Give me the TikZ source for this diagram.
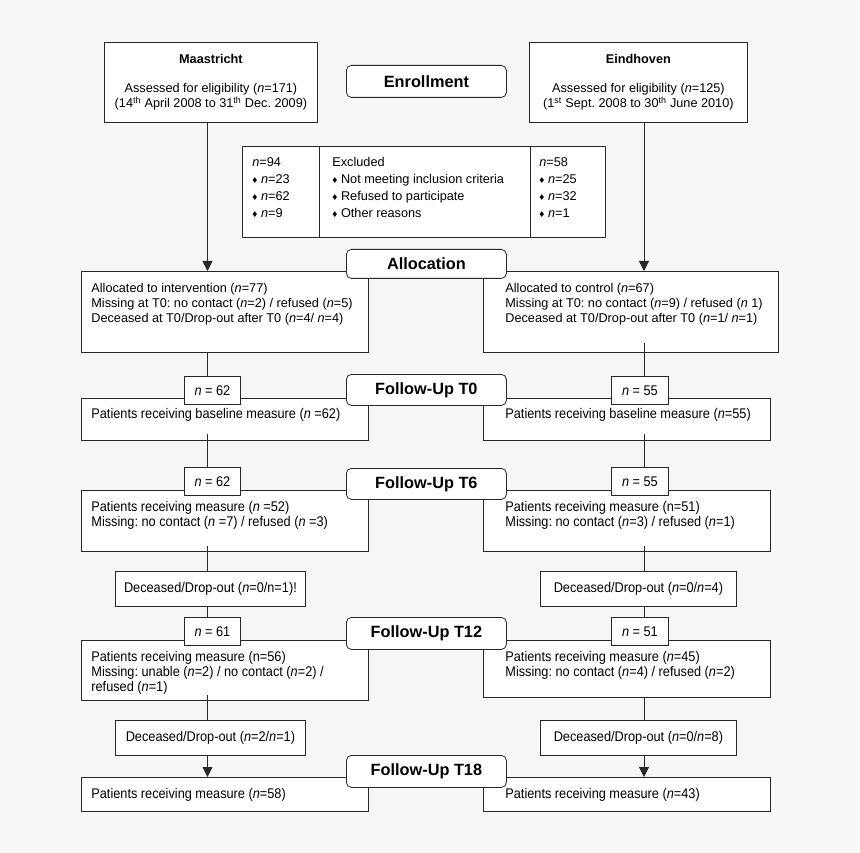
\documentclass[tikz,border=0pt]{standalone}
\usepackage{fontspec}
\setmainfont{Liberation Sans}
\newfontfamily\narrowf[FakeStretch=0.91]{Liberation Sans}
\usetikzlibrary{calc,arrows.meta}
\definecolor{bg}{RGB}{247,247,247}
\definecolor{ln}{RGB}{40,40,40}
\frenchspacing
\newcommand{\normf}{\fontsize{12.7}{15}\selectfont}
\newcommand{\narf}{\narrowf\fontsize{14}{15}\selectfont}
\newcommand{\inbox}[4]{\parbox[c][#1][t]{#2}{\vspace*{#3}#4}}
\newcommand{\dmd}{\raisebox{0.6pt}{\fontsize{10}{10}\selectfont ♦}}
\newcommand{\nn}{\textit{n}}
\begin{document}
\begin{tikzpicture}[x=1pt,y=-1pt,line width=0.8pt,
  box/.style={draw=ln,fill=white,inner sep=0pt,anchor=north west},
  phase/.style={draw=ln,fill=white,rounded corners=5pt,minimum width=160pt,inner sep=0pt,anchor=north west,font=\bfseries\fontsize{16.3}{18}\selectfont},
  nbox/.style={draw=ln,fill=white,minimum height=28pt,inner sep=0pt,anchor=north west,font=\narf},
  dbox/.style={draw=ln,fill=white,minimum height=35pt,inner sep=0pt,anchor=north west,font=\narf},
  txt/.style={inner sep=0pt,anchor=north west,font=\fontsize{12.7}{17}\selectfont},
  conn/.style={draw=ln},
  arr/.style={draw=ln,-{Triangle[width=10pt,length=10pt]}}
]
\useasboundingbox (0,0) rectangle (860,853);
\fill[bg] (0,0) rectangle (860,853);
\coordinate (cl) at (207.5,0);
\coordinate (cr) at (644,0);

% top boxes
\node[box,font=\normf] (maas) at (104,42) {\inbox{80pt}{213pt}{11pt}{\centering\strut\textbf{Maastricht}\\[14pt]Assessed for eligibility (\nn=171)\\(14\textsuperscript{th} April 2008 to 31\textsuperscript{th} Dec. 2009)}};
\node[box,font=\normf] (eind) at (529,42) {\inbox{80pt}{218pt}{11pt}{\centering\strut\textbf{Eindhoven}\\[14pt]Assessed for eligibility (\nn=125)\\(1\textsuperscript{st} Sept. 2008 to 30\textsuperscript{th} June 2010)}};

% excluded
\node[box,minimum width=363pt,minimum height=91pt] (excl) at (242,146) {};
\draw[conn] ([xshift=77pt]excl.north west) -- ([xshift=77pt]excl.south west);
\draw[conn] ([xshift=288pt]excl.north west) -- ([xshift=288pt]excl.south west);
\node[txt] (exa) at (252,154.5) {\parbox[t]{60pt}{\strut\nn=94\\\dmd\ \nn=23\\\dmd\ \nn=62\\\dmd\ \nn=9}};
\node[txt] (exb) at (332,154.5) {\parbox[t]{195pt}{\strut Excluded\\\dmd\ Not meeting inclusion criteria\\\dmd\ Refused to participate\\\dmd\ Other reasons}};
\node[txt] (exc) at (539,154.5) {\parbox[t]{60pt}{\strut\nn=58\\\dmd\ \nn=25\\\dmd\ \nn=32\\\dmd\ \nn=1}};

% allocation
\node[box,font=\normf] (allocL) at (81,271) {\inbox{81pt}{287pt}{11pt}{\leftskip=10pt\strut Allocated to intervention (\nn=77)\\Missing at T0: no contact (\nn=2) / refused (\nn=5)\\Deceased at T0/Drop-out after T0 (\nn=4/ \nn=4)}};
\node[box,font=\normf] (allocR) at (483,271) {\inbox{81pt}{295pt}{11pt}{\leftskip=22pt\strut Allocated to control (\nn=67)\\Missing at T0: no contact (\nn=9) / refused (\nn\ 1)\\Deceased at T0/Drop-out after T0 (\nn=1/ \nn=1)}};

% T0
\node[box,font=\narf] (t0L) at (81,398) {\inbox{42pt}{287pt}{10pt}{\leftskip=10pt\strut Patients receiving baseline measure (\nn\ =62)}};
\node[box,font=\narf] (t0R) at (483,398) {\inbox{42pt}{287pt}{10pt}{\leftskip=22pt\strut Patients receiving baseline measure (\nn=55)}};

% T6
\node[box,font=\narf] (t6L) at (81,490) {\inbox{61pt}{287pt}{11pt}{\leftskip=10pt\strut Patients receiving measure (\nn\ =52)\\Missing: no contact (\nn\ =7) / refused (\nn\ =3)}};
\node[box,font=\narf] (t6R) at (483,490) {\inbox{61pt}{287pt}{11pt}{\leftskip=22pt\strut Patients receiving measure (n=51)\\Missing: no contact (\nn=3) / refused (\nn=1)}};

\node[dbox,minimum width=190pt] (d6L) at (115,571) {Deceased/Drop-out (\nn=0/n=1)!};
\node[dbox,minimum width=196pt] (d6R) at (540,571) {Deceased/Drop-out (\nn=0/\nn=4)};

% T12
\node[box,font=\narf] (t12L) at (81,640) {\inbox{60pt}{287pt}{11pt}{\leftskip=10pt\strut Patients receiving measure (n=56)\\Missing: unable (\nn=2) / no contact (\nn=2) /\\refused (\nn=1)}};
\node[box,font=\narf] (t12R) at (483,640) {\inbox{57pt}{287pt}{11pt}{\leftskip=22pt\strut Patients receiving measure (\nn=45)\\Missing: no contact (\nn=4) / refused (\nn=2)}};

\node[dbox,minimum width=190pt] (d12L) at (115,720) {Deceased/Drop-out (\nn=2/\nn=1)};
\node[dbox,minimum width=196pt] (d12R) at (540,720) {Deceased/Drop-out (\nn=0/\nn=8)};

% T18
\node[box,font=\narf] (t18L) at (81,777) {\inbox{34pt}{287pt}{11pt}{\leftskip=10pt\strut Patients receiving measure (\nn=58)}};
\node[box,font=\narf] (t18R) at (483,777) {\inbox{34pt}{287pt}{11pt}{\leftskip=22pt\strut Patients receiving measure (\nn=43)}};

% connectors
\draw[arr] (maas.south -| cl) -- (allocL.north -| cl);
\draw[arr] (eind.south -| cr) -- (allocR.north -| cr);

% n boxes
\node[nbox,minimum width=56pt] (n0L) at (184,376) {\nn\ = 62};
\node[nbox,minimum width=57pt] (n0R) at (611,376) {\nn\ = 55};
\node[nbox,minimum width=56pt] (n6L) at (184,467) {\nn\ = 62};
\node[nbox,minimum width=57pt] (n6R) at (611,467) {\nn\ = 55};
\node[nbox,minimum width=56pt] (n12L) at (184,617) {\nn\ = 61};
\node[nbox,minimum width=57pt] (n12R) at (611,617) {\nn\ = 51};

\draw[conn] (allocL.south -| cl) -- (n0L.north -| cl);
\draw[conn] ($(allocR.south -| cr)+(0,-10)$) -- (n0R.north -| cr);
\draw[conn] ($(t0L.south -| cl)+(0,-7)$) -- (n6L.north -| cl);
\draw[conn] ($(t0R.south -| cr)+(0,-7)$) -- (n6R.north -| cr);
\draw[conn] ($(t6L.south -| cl)+(0,-6)$) -- (d6L.north -| cl);
\draw[conn] ($(t6R.south -| cr)+(0,-6)$) -- (d6R.north -| cr);
\draw[conn] (d6L.south -| cl) -- (n12L.north -| cl);
\draw[conn] (d6R.south -| cr) -- (n12R.north -| cr);
\draw[conn] ($(t12L.south -| cl)+(0,-6)$) -- (d12L.north -| cl);
\draw[conn] (t12R.south -| cr) -- (d12R.north -| cr);
\draw[arr] (d12L.south -| cl) -- (t18L.north -| cl);
\draw[arr] (d12R.south -| cr) -- (t18R.north -| cr);

% phase labels
\node[phase,minimum height=32pt] (enr) at (346,65) {Enrollment};
\node[phase,minimum height=29pt] (alloc) at (346,249) {Allocation};
\node[phase,minimum height=31pt] (f0) at (346,374) {Follow-Up T0};
\node[phase,minimum height=31pt] (f6) at (346,468) {Follow-Up T6};
\node[phase,minimum height=32pt] (f12) at (346,617) {Follow-Up T12};
\node[phase,minimum height=32pt] (f18) at (346,755) {Follow-Up T18};
\end{tikzpicture}
\end{document}
